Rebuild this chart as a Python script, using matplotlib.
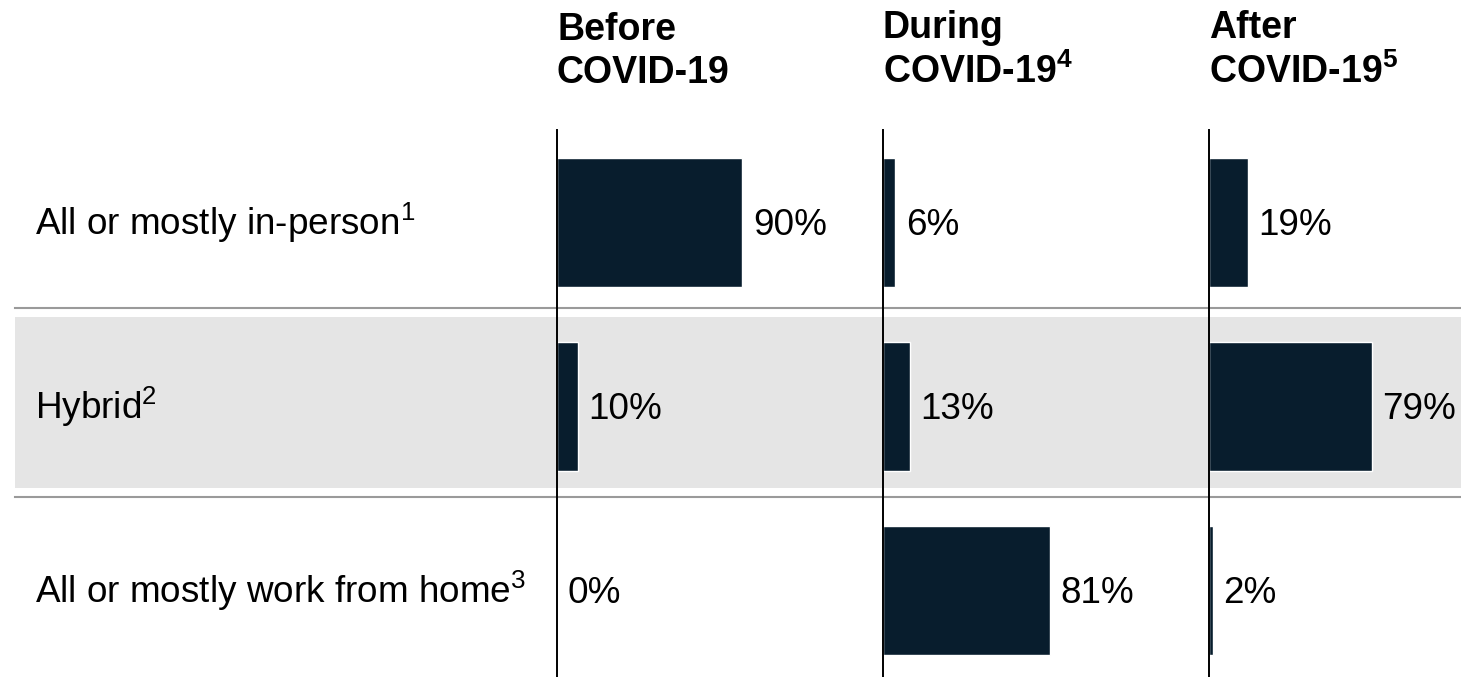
import matplotlib.pyplot as plt

plt.rcParams['font.family'] = ['Liberation Sans', 'DejaVu Sans']
plt.rcParams['mathtext.fontset'] = 'custom'
plt.rcParams['mathtext.rm'] = 'Liberation Sans'
plt.rcParams['mathtext.it'] = 'Liberation Sans:italic'
plt.rcParams['mathtext.bf'] = 'Liberation Sans:bold'

rows = ['All or mostly in-person$^{1}$',
        'Hybrid$^{2}$',
        'All or mostly work from home$^{3}$']
periods = ['Before\nCOVID-19',
           'During\nCOVID-19$^{\\mathbf{4}}$',
           'After\nCOVID-19$^{\\mathbf{5}}$']
before = [90, 10, 0]
during = [6, 13, 81]
after = [19, 79, 2]

NAVY = '#081d2d'
W, H = 1461, 677
fig = plt.figure(figsize=(W / 100, H / 100), dpi=100)

# vertical extent of the panels (axis lines start 130 px below the top)
top_px = 130
ax_h = (H - top_px) / H
ylim = (2.47, -0.5)

# background: shaded middle row and separators, plus row labels
bg = fig.add_axes([0, 0, 1, ax_h])
bg.set_xlim(0, W)
bg.set_ylim(*ylim)
bg.axis('off')
bg.axhspan(0.516, 1.446, xmin=15 / W, color='#e5e5e5', lw=0)
for y in (0.467, 1.495):
    bg.axhline(y, xmin=15 / W, color='#9a9a9a', lw=1.5)
for i, lab in enumerate(rows):
    bg.annotate(lab, xy=(35, i), xytext=(0, -9.4), textcoords='offset points',
                va='baseline', ha='left', fontsize=26.6)

# one small bar panel per period
px_per_pct = 2.06
lefts = [557, 883, 1209]
for left, title, vals in zip(lefts, periods, [before, during, after]):
    ax = fig.add_axes([left / W, 0, 252 / W, ax_h])
    ax.patch.set_alpha(0)
    ax.set_xlim(0, 252 / px_per_pct)
    ax.set_ylim(*ylim)
    ax.barh(range(len(vals)), vals, height=0.70, color=NAVY,
            edgecolor='white', linewidth=1)
    for i, v in enumerate(vals):
        ax.annotate(f'{v}%', xy=(v, i), xytext=(7.5, -9.4),
                    textcoords='offset points', va='baseline', ha='left',
                    fontsize=26.6)
    for s in ['top', 'right', 'bottom']:
        ax.spines[s].set_visible(False)
    ax.spines['left'].set_color('black')
    ax.spines['left'].set_linewidth(1.4)
    ax.set_xticks([])
    ax.set_yticks([])
    fig.text(left / W, 1 - 83 / H, title, fontsize=27, fontweight='bold',
             va='baseline', ha='left', linespacing=1.25)

fig.savefig('out.png', dpi=100)
